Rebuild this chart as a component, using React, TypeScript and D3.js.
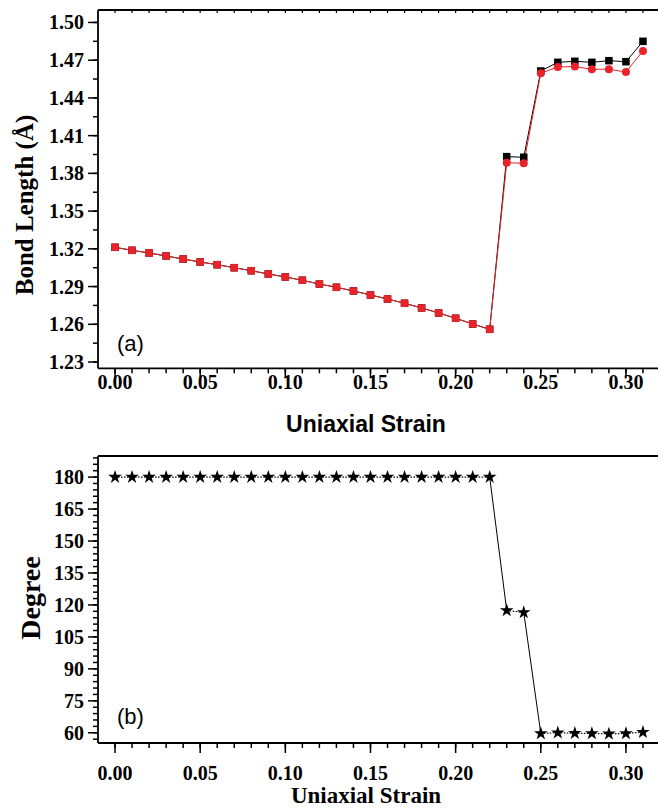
import React from "react";
import * as d3 from "d3";

const strain = [0, 0.01, 0.02, 0.03, 0.04, 0.05, 0.06, 0.07, 0.08, 0.09, 0.1, 0.11, 0.12, 0.13, 0.14, 0.15, 0.16, 0.17, 0.18, 0.19, 0.2, 0.21, 0.22, 0.23, 0.24, 0.25, 0.26, 0.27, 0.28, 0.29, 0.3, 0.31];
const bondBlack = [1.3212, 1.3188, 1.3167, 1.3143, 1.3119, 1.3095, 1.3074, 1.305, 1.3026, 1.3, 1.2976, 1.295, 1.292, 1.2894, 1.2865, 1.2833, 1.2801, 1.2767, 1.273, 1.269, 1.2648, 1.2602, 1.256, 1.3933, 1.3928, 1.4614, 1.4683, 1.4691, 1.4683, 1.4696, 1.4688, 1.485];
const bondRed = [1.3212, 1.3188, 1.3167, 1.3143, 1.3119, 1.3095, 1.3074, 1.305, 1.3026, 1.3, 1.2976, 1.295, 1.292, 1.2894, 1.2865, 1.2833, 1.2801, 1.2767, 1.273, 1.269, 1.2648, 1.2602, 1.256, 1.3885, 1.388, 1.4596, 1.4646, 1.4649, 1.4628, 1.4628, 1.4606, 1.4773];
const degree = [180, 180, 180, 180, 180, 180, 180, 180, 180, 180, 180, 180, 180, 180, 180, 180, 180, 180, 180, 180, 180, 180, 180, 117.4, 116.5, 59.7, 60.0, 59.8, 59.7, 59.5, 59.7, 60.3];
const xTicks = [0, 0.05, 0.1, 0.15, 0.2, 0.25, 0.3];
const bondTicks = [1.23, 1.26, 1.29, 1.32, 1.35, 1.38, 1.41, 1.44, 1.47, 1.5];
const degTicks = [60, 75, 90, 105, 120, 135, 150, 165, 180];

const SERIF = "'Liberation Serif', 'Times New Roman', serif";
const SANS = "'Liberation Sans', Arial, sans-serif";

const L = 98, R = 660;
const x = d3.scaleLinear().domain([-0.01, 0.32]).range([L, R]);
const yTop = d3.scaleLinear().domain([1.2250, 1.5099]).range([368.3, 10]);
const yBot = d3.scaleLinear().domain([55.2, 189.9]).range([743, 456]);

const fmt2 = d3.format(".2f");
const minorX = d3.range(-0.0, 0.3201, 0.01).map((v) => Math.round(v * 100) / 100);

function App() {
  const lw = 1.8;
  const lineTopB = d3.line<number>().x((_, i) => x(strain[i])).y((d) => yTop(d));
  const star = d3.symbol().type(d3.symbolStar).size(58)();
  const sq = 7.5;
  const minorBond = d3.range(1.23, 1.5101, 0.015).map((v) => Math.round(v * 1000) / 1000);
  const minorDeg = d3.range(57, 190, 3);

  const xAxis = (yLine: number, labelY: number) => (
    <g>
      <line x1={L} x2={R} y1={yLine} y2={yLine} stroke="#000" strokeWidth={lw} />
      {minorX.map((v) => (
        <line key={"m" + v} x1={x(v)} x2={x(v)} y1={yLine} y2={yLine + 5} stroke="#000" strokeWidth={1.5} />
      ))}
      {xTicks.map((v) => (
        <g key={"t" + v}>
          <line x1={x(v)} x2={x(v)} y1={yLine} y2={yLine + 10} stroke="#000" strokeWidth={1.5} />
          <text x={x(v)} y={labelY} textAnchor="middle" fontFamily={SERIF} fontWeight="bold" fontSize={20}>
            {fmt2(v)}
          </text>
        </g>
      ))}
    </g>
  );

  const segs = degree.slice(1).map((v, i) => ({
    x1: x(strain[i]),
    y1: yBot(degree[i]),
    x2: x(strain[i + 1]),
    y2: yBot(v),
    steep: Math.abs(v - degree[i]) > 10,
  }));

  return (
    <svg width={658} height={809} style={{ position: "absolute", left: 0, top: 0, background: "#fff" }}>
      <rect width={658} height={809} fill="#fff" />
      {/* ---------- Panel (a) ---------- */}
      <line x1={L} x2={L} y1={10} y2={368.3} stroke="#000" strokeWidth={lw} />
      <line x1={L} x2={R} y1={10} y2={10} stroke="#000" strokeWidth={lw} />
      {minorX.map((v) => (
        <line key={"tt" + v} x1={x(v)} x2={x(v)} y1={10} y2={13} stroke="#000" strokeWidth={1.2} />
      ))}
      {minorBond.map((v) => (
        <line key={"bm" + v} x1={L - 5} x2={L} y1={yTop(v)} y2={yTop(v)} stroke="#000" strokeWidth={1.5} />
      ))}
      {bondTicks.map((v) => (
        <g key={"bt" + v}>
          <line x1={L - 10} x2={L} y1={yTop(v)} y2={yTop(v)} stroke="#000" strokeWidth={1.5} />
          <text x={L - 14} y={yTop(v) + 7} textAnchor="end" fontFamily={SERIF} fontWeight="bold" fontSize={20}>
            {fmt2(v)}
          </text>
        </g>
      ))}
      {xAxis(368.3, 389)}
      <text x={366} y={432} textAnchor="middle" fontFamily={SANS} fontWeight="bold" fontSize={23}>
        Uniaxial Strain
      </text>
      <text
        transform={`translate(33,205) rotate(-90)`}
        textAnchor="middle"
        fontFamily={SERIF}
        fontWeight="bold"
        fontSize={25}
      >
        Bond Length (Å)
      </text>
      <text x={117} y={351} fontFamily={SANS} fontSize={22}>(a)</text>

      <path d={lineTopB(bondBlack) || ""} fill="none" stroke="#000" strokeWidth={1} />
      <path d={lineTopB(bondRed) || ""} fill="none" stroke="#e8232a" strokeWidth={1} />
      {bondBlack.map((v, i) => (
        <rect key={"bs" + i} x={x(strain[i]) - sq / 2} y={yTop(v) - sq / 2} width={sq} height={sq} fill="#000" />
      ))}
      {bondRed.map((v, i) =>
        strain[i] <= 0.22 ? (
          <rect key={"rs" + i} x={x(strain[i]) - sq / 2} y={yTop(v) - sq / 2} width={sq} height={sq} rx={1} fill="#e8232a" />
        ) : (
          <circle key={"rc" + i} cx={x(strain[i])} cy={yTop(v)} r={4} fill="#e8232a" />
        )
      )}

      {/* ---------- Panel (b) ---------- */}
      <line x1={L} x2={L} y1={456} y2={743} stroke="#000" strokeWidth={lw} />
      <line x1={L} x2={R} y1={456} y2={456} stroke="#000" strokeWidth={lw} />
      {minorDeg.map((v) => (
        <line key={"dm" + v} x1={L - 5} x2={L} y1={yBot(v)} y2={yBot(v)} stroke="#000" strokeWidth={1.5} />
      ))}
      {degTicks.map((v) => (
        <g key={"dt" + v}>
          <line x1={L - 10} x2={L} y1={yBot(v)} y2={yBot(v)} stroke="#000" strokeWidth={1.5} />
          <text x={L - 14} y={yBot(v) + 7} textAnchor="end" fontFamily={SERIF} fontWeight="bold" fontSize={20}>
            {v}
          </text>
        </g>
      ))}
      {xAxis(743, 780)}
      <text x={366} y={803} textAnchor="middle" fontFamily={SERIF} fontWeight="bold" fontSize={23}>
        Uniaxial Strain
      </text>
      <text
        transform={`translate(40,598) rotate(-90)`}
        textAnchor="middle"
        fontFamily={SERIF}
        fontWeight="bold"
        fontSize={28}
      >
        Degree
      </text>
      <text x={117} y={724} fontFamily={SANS} fontSize={22}>(b)</text>

      {segs.map((s, i) => (
        <line
          key={"sg" + i}
          x1={s.x1}
          y1={s.y1}
          x2={s.x2}
          y2={s.y2}
          stroke="#000"
          strokeWidth={s.steep ? 1 : 1.2}
          strokeDasharray={s.steep ? undefined : "1.5,1.5"}
        />
      ))}
      {degree.map((v, i) => (
        <path key={"st" + i} d={star || ""} transform={`translate(${x(strain[i])},${yBot(v)})`} fill="#000" />
      ))}
    </svg>
  );
}

export default App;
